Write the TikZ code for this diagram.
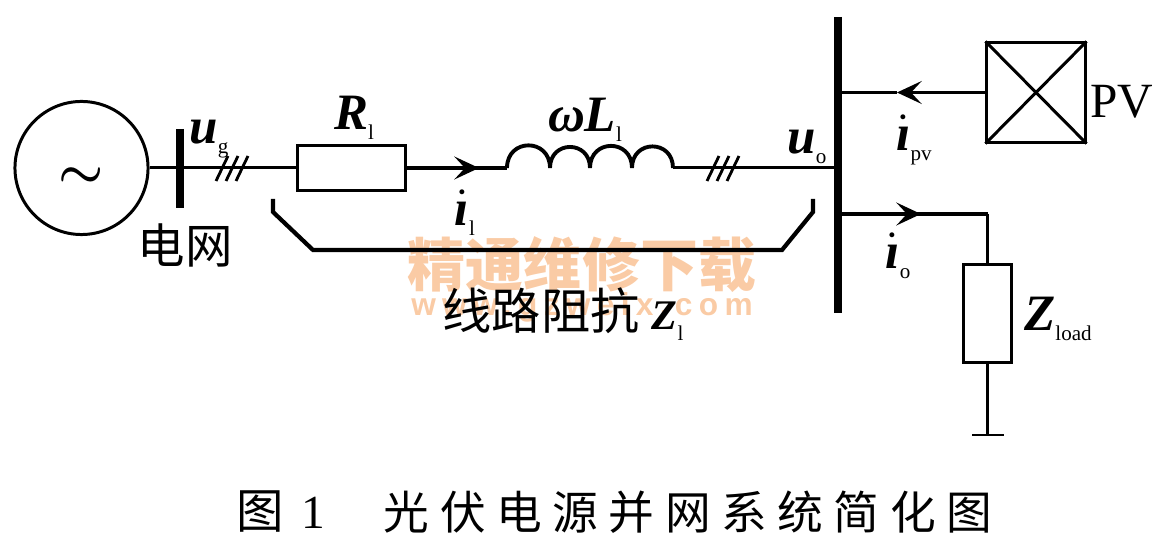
\documentclass[tikz,border=0pt]{standalone}
\usepackage{fontspec}
\usetikzlibrary{arrows.meta}
\newfontfamily\cjk{Noto Sans CJK SC}
\newfontfamily\cjkwide[LetterSpace=23]{Noto Sans CJK SC}
\newfontfamily\tnr{Liberation Serif}
\newfontfamily\webfont[LetterSpace=20]{Liberation Sans}
\definecolor{markcolor}{RGB}{250,203,165}
\newcommand{\sublab}[2]{{\tnr\bfseries\itshape #1}\raisebox{-3pt}{\tnr\upshape\mdseries\fontsize{6}{7}\selectfont #2}}
\newcommand{\doti}{$\dot{\hbox{ı}}$}
\tikzset{
  wire/.style={line width=0.85pt},
  heavywire/.style={line width=1.4pt},
  busbar/.style={line width=2.3pt},
  impbox/.style={draw,line width=0.85pt,inner sep=0pt},
  flow/.style={-{Stealth[length=7pt,width=6.5pt,inset=3pt]}},
  hatch/.style={line width=0.8pt},
  lab/.style={font=\tnr\bfseries\itshape\fontsize{14.5}{16}\selectfont,inner sep=0pt},
  hanzi/.style={font=\cjk\fontsize{13.5}{16}\selectfont,inner sep=0pt}
}
\begin{document}
\begin{tikzpicture}[x=0.01cm,y=-0.01cm]
\useasboundingbox (0,0) rectangle (1163,555);

\node [font=\cjk\bfseries\fontsize{16.5}{18}\selectfont,text=markcolor,inner sep=0pt] (mark1) at (582,265) {精通维修下载};
\node [font=\webfont\bfseries\fontsize{9}{11}\selectfont,text=markcolor,inner sep=0pt] (mark2) at (582,307) {www.gzweix.com};

\node [draw,circle,wire,minimum size=1.33cm,inner sep=0pt] (source) at (81.5,168) {};
\node [font=\boldmath\fontsize{14}{16}\selectfont,inner sep=0pt] (tilde) at (81,178) {$\sim$};
\node [impbox,minimum width=1.07cm,minimum height=0.44cm] (Rbox) at (351.5,168) {};
\node [impbox,minimum width=0.98cm,minimum height=0.99cm] (PVbox) at (1036,92.5) {};
\node [impbox,minimum width=0.47cm,minimum height=0.97cm] (Zbox) at (987.5,313.5) {};

\coordinate (gridtop) at (180,129);
\coordinate (gridbot) at (180,208);
\coordinate (bustop) at (838,17);
\coordinate (busbot) at (838,313);
\coordinate (Lin) at (507,168);
\coordinate (Lout) at (673,168);
\coordinate (busL) at (838,168);
\coordinate (busPV) at (838,92.5);
\coordinate (busZ) at (838,214);
\coordinate (arrowl) at (479,168);
\coordinate (arrowpv) at (897,92.5);
\coordinate (arrowo) at (921,214);
\coordinate (corner) at (987.5,214);
\coordinate (gnd) at (987.5,435);
\coordinate (gndl) at (972,435);
\coordinate (gndr) at (1004,435);

\draw [busbar] (gridtop)--(gridbot);
\draw [busbar] (bustop)--(busbot);
\draw [wire] (source.east)--(Rbox.west);
\draw [heavywire] (Rbox.east)--(Lin);
\draw [heavywire,flow] (Rbox.east)--(arrowl);
\draw [wire,line width=1.1pt] (Lin) to[out=90,in=90,looseness=1.8] ++(43,0) to[out=90,in=90,looseness=1.8] ++(40,0)
  to[out=90,in=90,looseness=1.8] ++(42,0) to[out=90,in=90,looseness=1.8] (Lout);
\draw [wire] (Lout)--(busL);
\draw [wire,flow] (PVbox.west)--(arrowpv);
\draw [wire] (arrowpv)--(busPV);
\draw [wire] (PVbox.north west)--(PVbox.south east);
\draw [wire] (PVbox.north east)--(PVbox.south west);
\draw [heavywire] (busZ)--(corner);
\draw [heavywire,flow] (busZ)--(arrowo);
\draw [wire] (corner)--(Zbox.north);
\draw [wire] (Zbox.south)--(gnd);
\draw [wire] (gndl)--(gndr);

\foreach \cx in {222,232,242,713,723,733}
  \draw [hatch] (\cx-6,181)--(\cx+6,156);

\draw [heavywire,line width=1.2pt] (273,199)--(273,212)--(313,250)--(782,250)--(813,212)--(813,199);

\node [lab] (ug) at (209,139) {\sublab{u}{g}};
\node [lab] (Rl) at (354,118) {\sublab{R}{l}};
\node [lab] (wL) at (585,120) {\sublab{ωL}{l}};
\node [lab] (uo) at (807,147) {\sublab{u}{o}};
\node [lab] (il) at (465,213) {\sublab{\doti}{l}};
\node [lab] (ipv) at (914,140) {\sublab{\doti}{pv}};
\node [lab] (io) at (898,256) {\sublab{\doti}{o}};
\node [font=\tnr\fontsize{14}{16}\selectfont,inner sep=0pt] (pv) at (1122,102) {PV};
\node [lab] (Zload) at (1058,319) {\sublab{Z}{load}};
\node [hanzi] (grid) at (185,245) {电网};
\node [hanzi,font=\cjk\fontsize{14}{16}\selectfont] (linez) at (563,314) {线路阻抗\hspace{3.5pt}{\tnr\bfseries\itshape\fontsize{12}{14}\selectfont Z}\raisebox{-3pt}{\tnr\fontsize{6}{7}\selectfont l}};
\node [font=\cjk\fontsize{13.5}{16}\selectfont,inner sep=0pt] (figno) at (281,512) {图\hspace{5pt}{\tnr 1}};
\node [font=\cjkwide\fontsize{13}{16}\selectfont,inner sep=0pt] (caption) at (688,512) {光伏电源并网系统简化图};

\end{tikzpicture}
\end{document}
